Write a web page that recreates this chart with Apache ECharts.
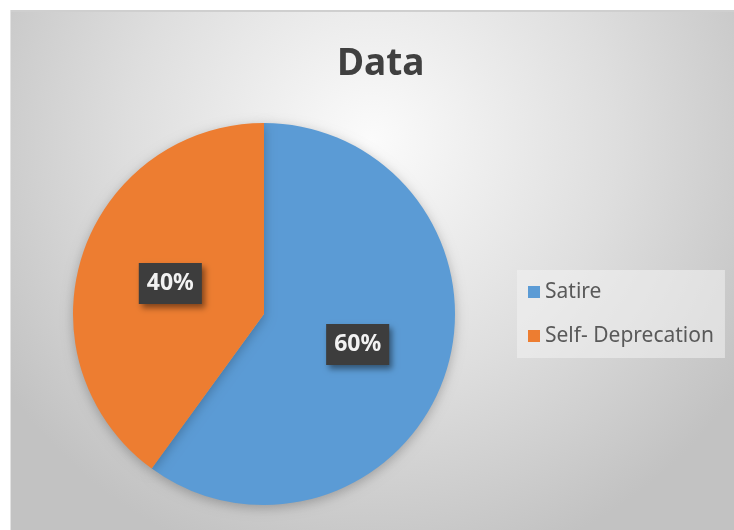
<!DOCTYPE html>
<html>
<head>
<meta charset="utf-8">
<script src="https://cdn.jsdelivr.net/npm/echarts@6/dist/echarts.min.js"></script>
<style>
  html, body { margin: 0; padding: 0; background: #fff; }
  #chart { width: 734px; height: 530px; }
</style>
</head>
<body>
<div id="chart"></div>
<script>
var categories = ['Satire', 'Self- Deprecation'];
var values = [60, 40];
var colors = ['#5b9bd5', '#ed7d31'];

var pieData = [];
for (var i = 0; i < categories.length; i++) {
  pieData.push({ name: categories[i], value: values[i], itemStyle: { color: colors[i] } });
}

var myChart = echarts.init(document.getElementById('chart'));
var option = {
  backgroundColor: '#fff',
  graphic: [{
    type: 'rect',
    z: -10,
    shape: { x: 10, y: 10, width: 724, height: 520 },
    style: {
      fill: {
        type: 'radial', x: 0.5, y: 0.25, r: 0.85,
        colorStops: [
          { offset: 0, color: '#fbfbfb' },
          { offset: 0.55, color: '#dedede' },
          { offset: 1, color: '#c2c2c2' }
        ]
      }
    }
  }, {
    type: 'line',
    z: -9,
    shape: { x1: 10, y1: 11, x2: 734, y2: 11 },
    style: { stroke: '#cfcfcf', lineWidth: 2 }
  }, {
    type: 'line',
    z: -9,
    shape: { x1: 10.5, y1: 10, x2: 10.5, y2: 530 },
    style: { stroke: '#e2e2e2', lineWidth: 1 }
  }],
  title: {
    text: 'Data',
    left: 332,
    top: 41,
    textStyle: {
      fontFamily: 'Noto Sans',
      fontSize: 37,
      fontWeight: 'bold',
      color: '#404040'
    }
  },
  legend: {
    orient: 'vertical',
    left: 517,
    top: 270,
    padding: [11, 11, 11, 11],
    itemWidth: 12,
    itemHeight: 12,
    itemGap: 22,
    icon: 'rect',
    backgroundColor: 'rgba(242,242,242,0.55)',
    data: categories,
    textStyle: {
      fontFamily: 'Noto Sans',
      fontSize: 21,
      lineHeight: 22,
      color: '#595959'
    }
  },
  series: [{
    type: 'pie',
    center: [264, 314],
    radius: 191,
    startAngle: 90,
    clockwise: true,
    silent: true,
    itemStyle: {
      borderWidth: 0,
      shadowBlur: 12,
      shadowColor: 'rgba(0,0,0,0.25)',
      shadowOffsetY: 3
    },
    label: {
      show: true,
      position: 'inside',
      formatter: '{d}%',
      fontFamily: 'Noto Sans',
      fontSize: 23,
      lineHeight: 28,
      fontWeight: 'bold',
      color: '#f2f2f2',
      backgroundColor: '#3d3d3d',
      padding: [7, 8, 6, 8],
      shadowBlur: 6,
      shadowOffsetX: 3,
      shadowOffsetY: 4,
      shadowColor: 'rgba(0,0,0,0.45)'
    },
    labelLine: { show: false },
    data: pieData
  }]
};
myChart.setOption(option);
</script>
</body>
</html>
